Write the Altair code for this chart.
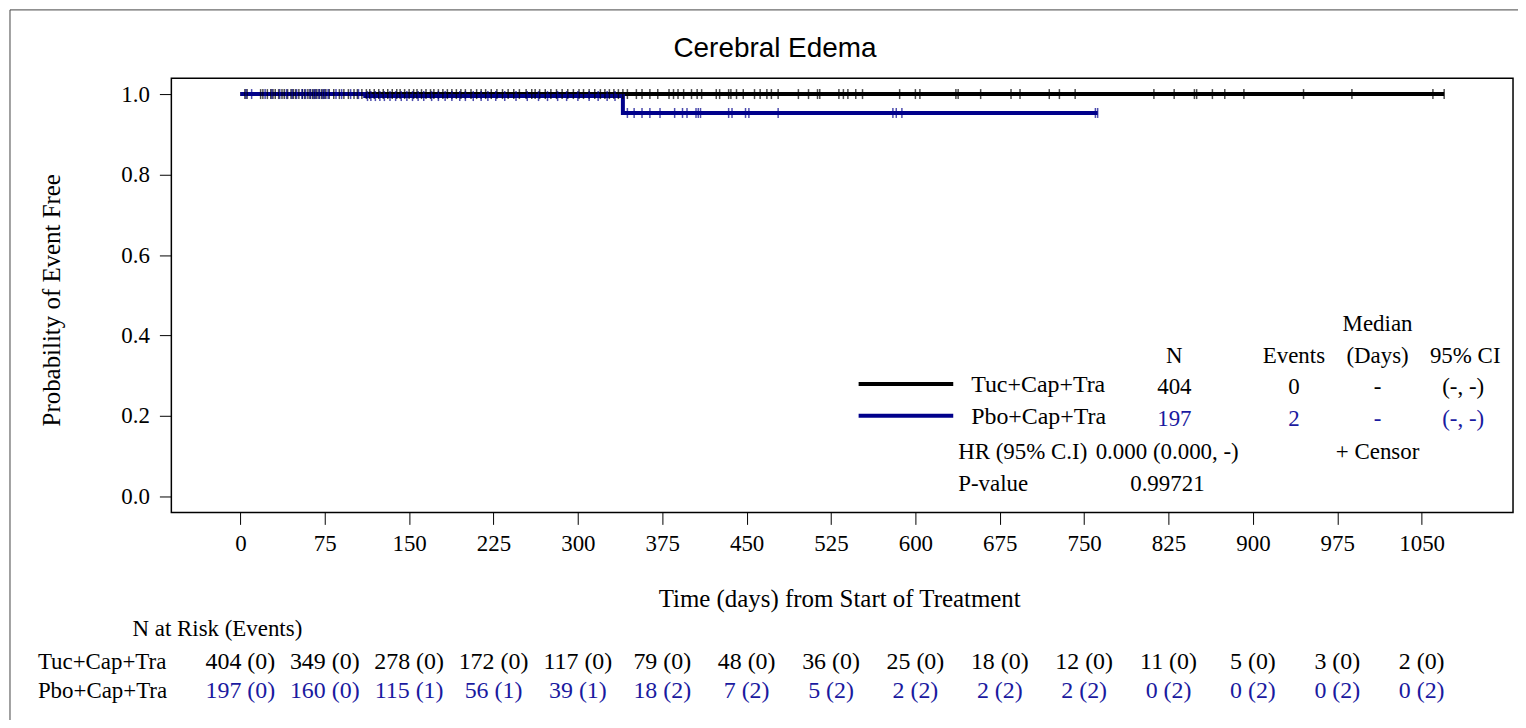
import altair as alt
import pandas as pd

SERIF = "Liberation Serif"
SANS = "Liberation Sans"
BLUE_LINE = "#00008b"
BLUE_TXT = "#1a1aa0"

arms = ["Tuc+Cap+Tra", "Pbo+Cap+Tra"]

# Kaplan-Meier step curves
tuc_times = [0, 1070]
tuc_surv = [1.0, 1.0]
pbo_times = [0, 111, 340, 762]
pbo_surv = [1.0, 0.995, 0.953, 0.953]

# censor times (days)
tuc_censor = [4, 6, 18, 20, 24, 27, 29, 31, 34, 37, 39, 42, 45, 47, 49, 52, 55, 57, 60, 62,
              64, 66, 68, 70, 72, 74, 76, 79, 83, 88, 92, 96, 101, 104, 108, 112, 115, 119,
              123, 127, 131, 135, 139, 142, 146, 150, 154, 157, 161, 165, 169, 172, 176, 180,
              184, 188, 192, 196, 200, 205, 210, 214, 218, 223, 228, 233, 238, 243, 248, 254,
              259, 262, 266, 271, 276, 281, 286, 291, 296, 301, 305, 310, 315, 320, 324, 328,
              332, 336, 340, 344, 352, 357, 364, 371, 381, 385, 389, 394, 401, 406, 410, 423,
              426, 434, 436, 441, 447, 457, 462, 468, 472, 478, 496, 505, 513, 515, 532, 536,
              540, 547, 553, 586, 600, 604, 636, 638, 658, 685, 693, 719, 728, 742, 812, 830,
              848, 850, 864, 875, 892, 945, 988, 1060, 1070]
pbo_censor = [5, 10, 22, 28, 35, 41, 46, 50, 55, 58, 62, 65, 67, 70, 73, 75, 78, 85, 90, 98,
              105, 113, 116, 120, 124, 128, 133, 138, 143, 148, 153, 158, 163, 170, 176, 182,
              188, 195, 200, 207, 214, 220, 227, 235, 245, 255, 265, 273, 282, 290, 300, 310,
              318, 326, 333, 344, 350, 357, 364, 373, 386, 393, 397, 405, 407, 409, 434, 437,
              449, 452, 478, 580, 583, 588, 760, 762]

x_ticks = [0, 75, 150, 225, 300, 375, 450, 525, 600, 675, 750, 825, 900, 975, 1050]
y_ticks = [0.0, 0.2, 0.4, 0.6, 0.8, 1.0]

tuc_risk = ["404 (0)", "349 (0)", "278 (0)", "172 (0)", "117 (0)", "79 (0)", "48 (0)", "36 (0)",
            "25 (0)", "18 (0)", "12 (0)", "11 (0)", "5 (0)", "3 (0)", "2 (0)"]
pbo_risk = ["197 (0)", "160 (0)", "115 (1)", "56 (1)", "39 (1)", "18 (2)", "7 (2)", "5 (2)",
            "2 (2)", "2 (2)", "2 (2)", "0 (2)", "0 (2)", "0 (2)", "0 (2)"]


def step_value(times, surv, t):
    v = surv[0]
    for ti, si in zip(times, surv):
        if ti <= t:
            v = si
    return v


line_df = pd.concat([
    pd.DataFrame({"arm": arms[0], "t": tuc_times, "s": tuc_surv}),
    pd.DataFrame({"arm": arms[1], "t": pbo_times, "s": pbo_surv}),
])
cens_df = pd.concat([
    pd.DataFrame({"arm": arms[0], "t": tuc_censor,
                  "s": [step_value(tuc_times, tuc_surv, t) for t in tuc_censor]}),
    pd.DataFrame({"arm": arms[1], "t": pbo_censor,
                  "s": [step_value(pbo_times, pbo_surv, t) for t in pbo_censor]}),
])
risk_df = pd.concat([
    pd.DataFrame({"arm": arms[0], "t": x_ticks, "label": tuc_risk}),
    pd.DataFrame({"arm": arms[1], "t": x_ticks, "label": pbo_risk}),
])

xs = alt.Scale(domain=[-61.35, 1131.2], nice=False, zero=False)
ys = alt.Scale(domain=[-0.0396, 1.0396], nice=False, zero=False)
cs = alt.Scale(domain=arms, range=["black", BLUE_LINE])

x_axis = alt.Axis(values=x_ticks, format="d", title=None, grid=False, domain=False, tickSize=12,
                  tickColor="black", labelColor="black", labelFont=SERIF, labelFontSize=23,
                  labelPadding=8, labelFlush=False)
y_axis = alt.Axis(values=y_ticks, format=".1f", title=None, grid=False, domain=False,
                  tickSize=12, tickColor="black", labelColor="black", labelFont=SERIF,
                  labelFontSize=23, labelPadding=10)


def curve(arm):
    return alt.Chart(line_df[line_df["arm"] == arm]).mark_line(
        interpolate="step-after", strokeWidth=4
    ).encode(
        x=alt.X("t:Q", scale=xs, axis=x_axis),
        y=alt.Y("s:Q", scale=ys, axis=y_axis),
        color=alt.Color("arm:N", scale=cs, legend=None),
    )


def censors(arm):
    return alt.Chart(cens_df[cens_df["arm"] == arm]).mark_tick(
        orient="vertical", size=10, thickness=1.5
    ).encode(
        x=alt.X("t:Q", scale=xs),
        y=alt.Y("s:Q", scale=ys),
        color=alt.Color("arm:N", scale=cs, legend=None),
    )


def txt(s, x, y, size=23, color="black", align="left", font=SERIF, angle=None):
    kw = dict(text=s, fontSize=size, color=color, align=align, font=font, baseline="middle")
    if angle is not None:
        kw["angle"] = angle
    return alt.Chart(alt.Data(values=[{"k": 1}])).mark_text(**kw).encode(
        x=alt.value(x), y=alt.value(y))


def hline(x1, x2, y, color, width):
    return alt.Chart(alt.Data(values=[{"k": 1}])).mark_rule(
        color=color, strokeWidth=width).encode(x=alt.value(x1), x2=alt.value(x2), y=alt.value(y))


def vline(x, y1, y2, color, width):
    return alt.Chart(alt.Data(values=[{"k": 1}])).mark_rule(
        color=color, strokeWidth=width).encode(x=alt.value(x), y=alt.value(y1), y2=alt.value(y2))


risk_layers = []
for arm, yv, col in [(arms[0], 586, "black"), (arms[1], 615, BLUE_TXT)]:
    risk_layers.append(
        alt.Chart(risk_df[risk_df["arm"] == arm]).mark_text(
            font=SERIF, fontSize=24, color=col, align="center", baseline="middle"
        ).encode(x=alt.X("t:Q", scale=xs), y=alt.value(yv), text="label:N")
    )

LS = 23
annotations = [
    txt("Cerebral Edema", 606, -29, size=28, align="center", font=SANS),
    txt("Time (days) from Start of Treatment", 671, 523, size=25, align="center"),
    txt("Probability of Event Free", -120, 223, size=25, align="center", angle=270),
    txt("N at Risk (Events)", -39, 553, size=23),
    txt(arms[0], -134, 586, size=23),
    txt(arms[1], -134, 615, size=23),
    # legend table
    hline(690, 785, 307, "black", 4),
    hline(690, 785, 339, BLUE_LINE, 4),
    txt(arms[0], 803, 308, size=LS + 1),
    txt(arms[1], 803, 340, size=LS + 1),
    txt("Median", 1211, 247, size=LS, align="center"),
    txt("N", 1007, 279, size=LS, align="center"),
    txt("Events", 1127, 279, size=LS, align="center"),
    txt("(Days)", 1211, 279, size=LS, align="center"),
    txt("95% CI", 1299, 279, size=LS, align="center"),
    txt("404", 1007, 310, size=LS, align="center"),
    txt("0", 1127, 310, size=LS, align="center"),
    txt("-", 1211, 310, size=LS, align="center"),
    txt("(-, -)", 1297, 310, size=LS, align="center"),
    txt("197", 1007, 342, size=LS, align="center", color=BLUE_TXT),
    txt("2", 1127, 342, size=LS, align="center", color=BLUE_TXT),
    txt("-", 1211, 342, size=LS, align="center", color=BLUE_TXT),
    txt("(-, -)", 1297, 342, size=LS, align="center", color=BLUE_TXT),
    txt("HR (95% C.I)", 790, 375, size=LS),
    txt("0.000 (0.000, -)", 928, 375, size=LS),
    txt("+ Censor", 1211, 375, size=LS, align="center"),
    txt("P-value", 790, 408, size=LS),
    txt("0.99721", 1000, 408, size=LS, align="center"),
    # outer border
    hline(-162, 1352, -68.5, "#444444", 1),
    vline(-162, -68.5, 650, "#444444", 1),
]

chart = alt.layer(
    curve(arms[0]), curve(arms[1]), censors(arms[0]), censors(arms[1]),
    *risk_layers, *annotations
).properties(
    width=1347, height=436,
    padding={"left": 164, "top": 69, "right": 5, "bottom": 207},
    autosize=alt.AutoSizeParams(type="none"),
    background="white",
).configure_view(stroke="black", strokeWidth=1.5)

chart.save("out.html", embed_options={"renderer": "svg", "actions": False})
